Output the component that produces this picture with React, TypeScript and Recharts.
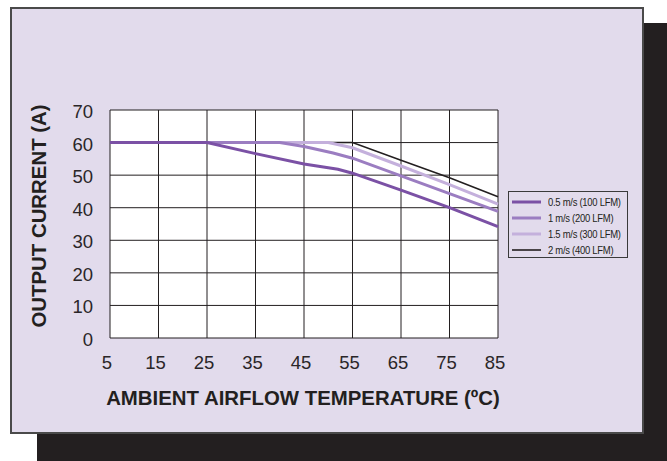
import { LineChart, Line, XAxis, YAxis, CartesianGrid, Legend } from "recharts"

// temperature (ºC) vs output current (A), one pair of arrays per airflow
const temps05 = [5, 25, 35, 45, 52, 55, 65, 75, 85]
const amps05 = [60, 60, 56.6, 53.4, 51.8, 50.6, 45.4, 40, 34.2]

const temps1 = [5, 40, 45, 51, 55, 65, 75, 85]
const amps1 = [60, 60, 58.8, 56.8, 55.2, 49.8, 44.3, 38.9]

const temps15 = [5, 50, 55, 65, 75, 85]
const amps15 = [60, 60, 58.4, 52.8, 47.1, 41.1]

const temps2 = [5, 55, 65, 75, 85]
const amps2 = [60, 60, 54.6, 49.2, 43.4]

const xTicks = [5, 15, 25, 35, 45, 55, 65, 75, 85]
const yTicks = [0, 10, 20, 30, 40, 50, 60, 70]

const seriesNames = ["0.5 m/s (100 LFM)", "1 m/s (200 LFM)", "1.5 m/s (300 LFM)", "2 m/s (400 LFM)"]
const seriesColors = ["#7b51a5", "#9b7dc1", "#c4b0dc", "#231f20"]
const seriesWidths = [3, 3, 3, 1.6]

const toPoints = (temps: number[], amps: number[]) => temps.map((t, i) => ({ t, a: amps[i] }))

const series = [
  toPoints(temps05, amps05),
  toPoints(temps1, amps1),
  toPoints(temps15, amps15),
  toPoints(temps2, amps2),
]

const FONT = "'Liberation Sans', Arial, Helvetica, sans-serif"

const XTick = (p: any) => (
  <text x={p.x} y={p.y} dx={-3} dy={13.5} textAnchor="middle" fontSize={18.5} fontFamily={FONT} fill="#2a2628">
    {p.payload.value}
  </text>
)

const YTick = (p: any) => (
  <text x={p.x} y={p.y} dy={8} textAnchor="end" fontSize={18.5} fontFamily={FONT} fill="#2a2628">
    {p.payload.value}
  </text>
)

const XTitle = (p: any) => {
  const vb = p.viewBox
  return (
    <text x={vb.x + vb.width / 2 - 1} y={vb.y + 67} textAnchor="middle" fontSize={20.4} fontWeight="bold" fontFamily={FONT} fill="#231f20">
      AMBIENT AIRFLOW TEMPERATURE (ºC)
    </text>
  )
}

const YTitle = (p: any) => {
  const vb = p.viewBox
  const x = vb.x + 46
  const y = vb.y + vb.height / 2 - 8
  return (
    <text x={x} y={y} transform={`rotate(-90, ${x}, ${y})`} textAnchor="middle" fontSize={20.4} fontWeight="bold" fontFamily={FONT} fill="#231f20">
      OUTPUT CURRENT (A)
    </text>
  )
}

const LegendBox = () => (
  <div
    style={{
      width: 120,
      height: 67,
      boxSizing: "border-box",
      border: "1.3px solid #3a3a3a",
      paddingTop: 2,
      fontFamily: FONT,
      fontSize: 10.5,
      color: "#231f20",
    }}
  >
    {seriesNames.map((name, i) => (
      <div key={name} style={{ height: 16, display: "flex", alignItems: "center" }}>
        <svg width={39} height={16} style={{ flex: "none" }}>
          <line x1={3} x2={32} y1={8} y2={8} stroke={seriesColors[i]} strokeWidth={seriesWidths[i]} />
        </svg>
        <span
          style={{
            whiteSpace: "nowrap",
            letterSpacing: -0.3,
            display: "inline-block",
            transform: "scaleX(0.9)",
            transformOrigin: "left center",
          }}
        >
          {name}
        </span>
      </div>
    ))}
  </div>
)

export default function App() {
  // draw order: 2 m/s first so the slower airflows sit on top
  const order = [3, 2, 1, 0]
  return (
    <div style={{ position: "absolute", left: 0, top: 0, width: 667, height: 461, overflow: "hidden", background: "#fff" }}>
      <div style={{ position: "absolute", left: 37, top: 23, width: 640, height: 450, background: "#231f20" }} />
      <div
        style={{
          position: "absolute",
          left: 10,
          top: 7,
          width: 634,
          height: 427,
          boxSizing: "border-box",
          border: "2px solid #4a4a4a",
          background: "#e2dbec",
        }}
      />
      <div style={{ position: "absolute", left: 0, top: 0 }}>
        <LineChart width={667} height={461} margin={{ top: 110, right: 169, bottom: 0, left: 0 }}>
          <CartesianGrid stroke="#231f20" strokeWidth={1} fill="#ffffff" fillOpacity={1} />
          <XAxis
            type="number"
            dataKey="t"
            domain={[5, 85]}
            ticks={xTicks}
            height={123}
            tickSize={0}
            tickMargin={17}
            axisLine={false}
            tickLine={false}
            tick={<XTick />}
            interval={0}
            label={{ content: <XTitle /> }}
          />
          <YAxis
            type="number"
            dataKey="a"
            domain={[0, 70]}
            ticks={yTicks}
            width={110}
            tickSize={0}
            tickMargin={17}
            axisLine={false}
            tickLine={false}
            tick={<YTick />}
            interval={0}
            label={{ content: <YTitle /> }}
          />
          <Legend
            layout="vertical"
            align="center"
            verticalAlign="middle"
            content={<LegendBox />}
            wrapperStyle={{ left: 508, top: 191, width: 120, height: 67 }}
          />
          {order.map((i) => (
            <Line
              key={seriesNames[i]}
              data={series[i]}
              dataKey="a"
              name={seriesNames[i]}
              type="linear"
              stroke={seriesColors[i]}
              strokeWidth={seriesWidths[i]}
              dot={false}
              activeDot={false}
              isAnimationActive={false}
            />
          ))}
        </LineChart>
      </div>
    </div>
  )
}
